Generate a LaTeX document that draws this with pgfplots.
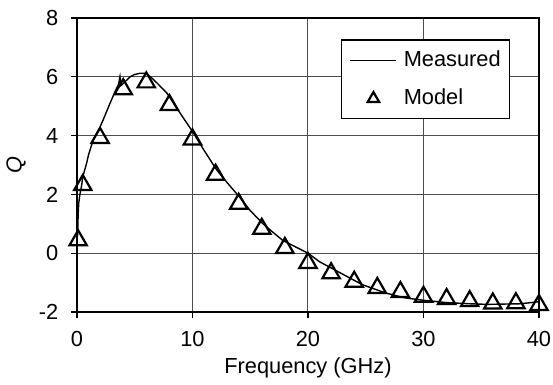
\documentclass[border=0pt]{standalone}
\usepackage{pgfplots}
\pgfplotsset{compat=1.18}
\usepackage{fontspec}
\setmainfont{Liberation Sans}
\pgfplotsset{
  measuredlegend/.style={legend image code/.code={\path[draw=none,fill=none] (0pt,-0.1pt) rectangle (0.1pt,0.1pt); \draw[##1] (3.3pt,0pt) -- (26.3pt,0pt);}},
  modellegend/.style={legend image code/.code={\path[draw=none,fill=none] (0pt,-0.1pt) rectangle (0.1pt,0.1pt); \draw[##1, mark size=3.3pt] plot coordinates {(14.8pt,0pt)}; \path[draw=none,fill=none] (26.2pt,-0.1pt) rectangle (26.3pt,0.1pt);}},
}
\pgfplotstableread{
x y
0.05 0.60
0.08 1.00
0.10 1.30
0.15 1.70
0.25 2.00
0.40 2.30
0.50 2.60
0.84 3.07
1.00 3.35
1.41 3.86
2.00 4.30
2.27 4.54
2.86 5.10
3.30 5.50
3.60 5.75
3.72 6.00
3.80 5.70
4.20 5.85
4.60 6.00
5.00 6.08
5.45 6.12
6.00 6.12
6.50 5.95
6.90 5.80
7.76 5.46
8.90 4.78
10.0 4.14
11.0 3.50
12.1 2.83
13.0 2.40
14.05 1.92
15.0 1.45
16.05 1.02
17.0 0.70
17.8 0.44
19.0 0.20
20.0 0.00
21.0 -0.29
22.0 -0.50
22.7 -0.65
24.7 -1.07
26.7 -1.35
28.4 -1.52
30.0 -1.60
32.0 -1.68
34.0 -1.72
35.5 -1.74
38.4 -1.72
40.0 -1.65
}\measured
\pgfplotstableread{
x y
0.1 0.44
0.5 2.32
2 3.92
4 5.58
6 5.81
8 5.04
10 3.87
12 2.67
14 1.68
16 0.83
18 0.18
20 -0.33
22 -0.68
24 -0.97
26 -1.18
28 -1.32
30 -1.48
32 -1.56
34 -1.63
36 -1.71
38 -1.70
40 -1.76
}\model
\begin{document}
\fontsize{10.9}{13}\selectfont
\begin{tikzpicture}
\begin{axis}[
  width=231pt, height=147pt, scale only axis,
  xmin=0, xmax=40, ymin=-2, ymax=8,
  xtick={0,10,20,30,40}, xticklabels={0,10,20,30,40},
  ytick={-2,0,2,4,6,8}, yticklabels={-2,0,2,4,6,8},
  tick align=outside, xtick pos=bottom, ytick pos=left, major tick length=3pt,
  tick style={black, line width=0.6pt},
  grid=major, grid style={black!70, line width=0.5pt},
  axis line style={line width=0.6pt},
  xticklabel style={yshift=-3pt},
  yticklabel style={xshift=-2.5pt},
  xlabel={Frequency (GHz)}, ylabel={\textit{Q}},
  xlabel style={at={(axis description cs:0.5,0)}, anchor=center, yshift=-28pt},
  ylabel style={at={(axis description cs:0,0.5)}, anchor=center, yshift=30.5pt},
  legend style={at={(rel axis cs:0.937,0.927)}, anchor=north east, draw=black, fill=white,
    line width=0.6pt, inner xsep=1pt, inner ysep=3pt, row sep=5pt,
    nodes={inner xsep=3.3pt, inner ysep=2pt, text height=8pt, text depth=2.2pt}},
  legend cell align=left,
]
\addplot[black, line width=0.7pt, no markers, measuredlegend] table[x=x,y=y] {\measured};
\addlegendentry{Measured}
\addplot[black, only marks, mark=triangle, mark size=5pt, mark options={line width=1.1pt, fill=none}, modellegend] table[x=x,y=y] {\model};
\addlegendentry{Model}
\end{axis}
\pgfresetboundingbox
\path[use as bounding box] ([xshift=-38.5pt,yshift=-36pt]current axis.south west) rectangle ([xshift=7pt,yshift=9pt]current axis.north east);
\end{tikzpicture}
\end{document}
